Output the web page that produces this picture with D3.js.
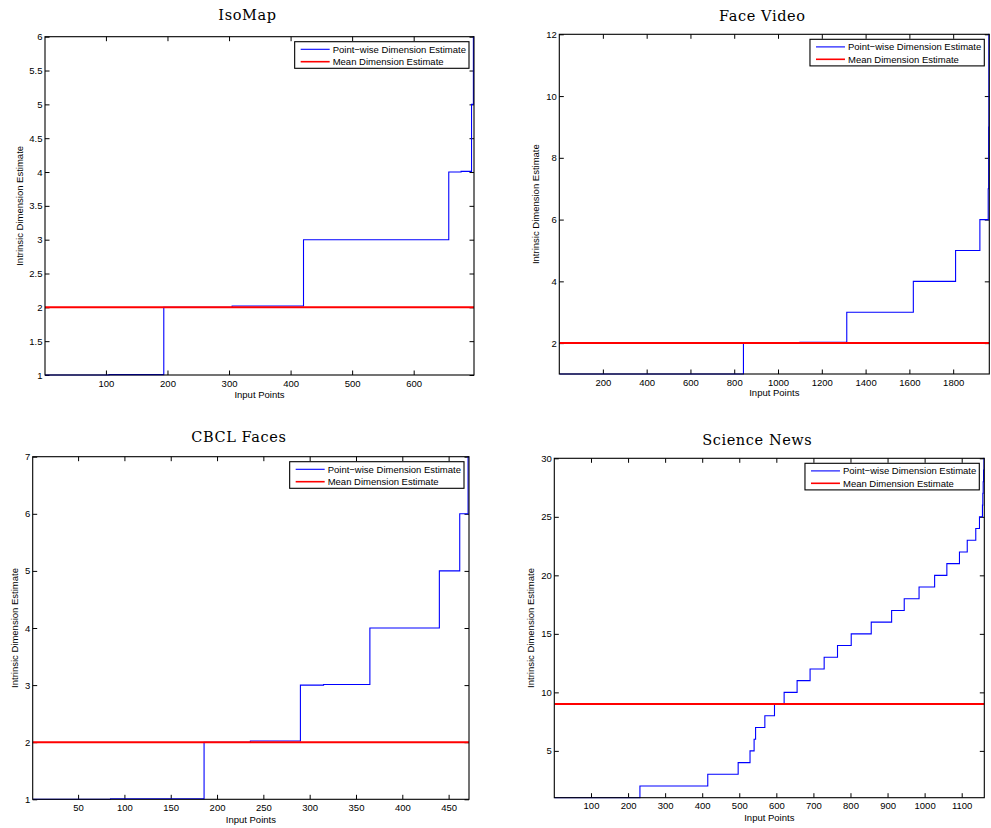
<!DOCTYPE html>
<html>
<head>
<meta charset="utf-8">
<script src="https://cdn.jsdelivr.net/npm/d3@7"></script>
<style>
  html, body { margin: 0; padding: 0; background: #fff; }
  svg { display: block; }
  .tick text { font-family: "Liberation Sans", Arial, sans-serif; font-size: 9.5px; fill: #000; }
  .tick line { stroke: #000; stroke-width: 1; }
</style>
</head>
<body>
<svg id="chart" width="991" height="828"></svg>
<script>
// ---------------- DATA ----------------
const titles = ["IsoMap", "Face Video", "CBCL Faces", "Science News"];
const legendLabels = ["Point\u2212wise Dimension Estimate", "Mean Dimension Estimate"];
const xLabel = "Input Points";
const yLabel = "Intrinsic Dimension Estimate";

// Point-wise estimates (sorted), given as step start positions and values
const isoX = [1, 105, 194, 305, 421, 657, 677, 694, 697, 698];
const isoY = [1, 1.005, 2, 2.02, 3, 4, 4.01, 5, 6, 6];
const isoMean = 2;
const isoDomainX = [1, 698];
const isoDomainY = [1, 6];
const isoXTicks = [100, 200, 300, 400, 500, 600];
const isoYTicks = [1, 1.5, 2, 2.5, 3, 3.5, 4, 4.5, 5, 5.5, 6];

const faceX = [1, 842, 1100, 1314, 1618, 1811, 1922, 1960, 1962, 1963, 1965];
const faceY = [1, 2, 2.03, 3, 4, 5, 6, 7, 9, 12, 12];
const faceMean = 2;
const faceDomainX = [1, 1965];
const faceDomainY = [1, 12];
const faceXTicks = [200, 400, 600, 800, 1000, 1200, 1400, 1600, 1800];
const faceYTicks = [2, 4, 6, 8, 10, 12];

const cbclX = [1, 85, 186, 236, 290, 315, 365, 440, 462, 471, 472];
const cbclY = [1, 1.01, 2, 2.02, 3, 3.01, 4, 5, 6, 7, 7];
const cbclMean = 2;
const cbclDomainX = [1, 472];
const cbclDomainY = [1, 7];
const cbclXTicks = [50, 100, 150, 200, 250, 300, 350, 400, 450];
const cbclYTicks = [1, 2, 3, 4, 5, 6, 7];

const sciX = [1, 232, 415, 497, 529, 540, 544, 569, 595, 621, 656, 691, 729, 765, 802, 856,
              911, 945, 985, 1027, 1060, 1094, 1115, 1138, 1148, 1156, 1157, 1158, 1159, 1160, 1161];
const sciY = [1, 2, 3, 4, 5, 6, 7, 8, 9, 10, 11, 12, 13, 14, 15, 16,
              17, 18, 19, 20, 21, 22, 23, 24, 25, 26, 27, 28, 29, 30, 30];
const sciMean = 9;
const sciDomainX = [1, 1161];
const sciDomainY = [1, 30];
const sciXTicks = [100, 200, 300, 400, 500, 600, 700, 800, 900, 1000, 1100];
const sciYTicks = [5, 10, 15, 20, 25, 30];

// ---------------- LAYOUT ----------------
const panels = [
  { xs: isoX, ys: isoY, mean: isoMean, dx: isoDomainX, dy: isoDomainY, xt: isoXTicks, yt: isoYTicks,
    box: { l: 45, r: 474, t: 36.7, b: 375 }, titleY: 20, ylabX: 20, xlabY: 395 },
  { xs: faceX, ys: faceY, mean: faceMean, dx: faceDomainX, dy: faceDomainY, xt: faceXTicks, yt: faceYTicks,
    box: { l: 559.3, r: 989.3, t: 34.3, b: 374 }, titleY: 20.7, ylabX: 535.7, xlabY: 393 },
  { xs: cbclX, ys: cbclY, mean: cbclMean, dx: cbclDomainX, dy: cbclDomainY, xt: cbclXTicks, yt: cbclYTicks,
    box: { l: 32.7, r: 469, t: 456.7, b: 799.3 }, titleY: 442.3, ylabX: 15, xlabY: 819.3 },
  { xs: sciX, ys: sciY, mean: sciMean, dx: sciDomainX, dy: sciDomainY, xt: sciXTicks, yt: sciYTicks,
    box: { l: 554.3, r: 984.3, t: 458.3, b: 797.7 }, titleY: 445, ylabX: 530.7, xlabY: 817.3 }
];

const svg = d3.select("#chart");
const sans = '"Liberation Sans", Arial, sans-serif';
const TICK = 4.5;

panels.forEach((p, i) => {
  const B = p.box;
  const x = d3.scaleLinear().domain(p.dx).range([B.l, B.r]);
  const y = d3.scaleLinear().domain(p.dy).range([B.b, B.t]);
  const g = svg.append("g");

  // clip
  const clipId = "clip" + i;
  svg.append("clipPath").attr("id", clipId).append("rect")
    .attr("x", B.l).attr("y", B.t - 1).attr("width", B.r - B.l).attr("height", B.b - B.t + 2);

  // axes (ticks inside, MATLAB box style)
  const fmt = d => String(d);
  g.append("g").attr("transform", `translate(0,${B.b})`)
    .call(d3.axisBottom(x).tickValues(p.xt).tickFormat(fmt).tickSize(-TICK).tickPadding(5))
    .call(a => a.select(".domain").remove());
  g.append("g").attr("transform", `translate(0,${B.t})`)
    .call(d3.axisTop(x).tickValues(p.xt).tickFormat("").tickSize(-TICK))
    .call(a => a.select(".domain").remove());
  g.append("g").attr("transform", `translate(${B.l},0)`)
    .call(d3.axisLeft(y).tickValues(p.yt).tickFormat(fmt).tickSize(-TICK).tickPadding(2.5))
    .call(a => a.select(".domain").remove());
  g.append("g").attr("transform", `translate(${B.r},0)`)
    .call(d3.axisRight(y).tickValues(p.yt).tickFormat("").tickSize(-TICK))
    .call(a => a.select(".domain").remove());

  // data lines
  const pts = p.xs.map((v, k) => [v, p.ys[k]]);
  const line = d3.line().x(d => x(d[0])).y(d => y(d[1])).curve(d3.curveStepAfter);
  const plot = g.append("g").attr("clip-path", `url(#${clipId})`);
  plot.append("path").datum(pts).attr("d", line)
    .attr("fill", "none").attr("stroke", "#0000ff").attr("stroke-width", 1.1);
  plot.append("line")
    .attr("x1", x(p.dx[0])).attr("x2", x(p.dx[1]))
    .attr("y1", y(p.mean)).attr("y2", y(p.mean))
    .attr("stroke", "#ff0000").attr("stroke-width", 2);

  // frame
  g.append("rect").attr("x", B.l).attr("y", B.t).attr("width", B.r - B.l).attr("height", B.b - B.t)
    .attr("fill", "none").attr("stroke", "#000").attr("stroke-width", 1.1);

  // legend
  const lg = g.append("g");
  const texts = [];
  legendLabels.forEach((t, k) => {
    texts.push(lg.append("text").attr("font-family", sans).attr("font-size", 9.5).attr("fill", "#000")
      .attr("dy", "0.35em").text(t));
  });
  const tw = d3.max(texts, t => t.node().getComputedTextLength());
  const lw = 38 + tw + 3, lh = 26.6;
  const lx = B.r - 5 - lw, ly = B.t + 5;
  lg.insert("rect", "text").attr("x", lx).attr("y", ly).attr("width", lw).attr("height", lh)
    .attr("fill", "#fff").attr("stroke", "#000").attr("stroke-width", 1.1);
  const rows = [ly + 7.6, ly + 20];
  const cols = ["#0000ff", "#ff0000"];
  texts.forEach((t, k) => t.attr("x", lx + 38).attr("y", rows[k]));
  rows.forEach((ry, k) => {
    lg.append("line").attr("x1", lx + 6).attr("x2", lx + 35).attr("y1", ry).attr("y2", ry)
      .attr("stroke", cols[k]).attr("stroke-width", k === 0 ? 1.1 : 1.6);
  });

  // labels
  g.append("text").attr("x", (B.l + B.r) / 2).attr("y", p.xlabY).attr("dy", "0.35em")
    .attr("text-anchor", "middle").attr("font-family", sans).attr("font-size", 9.5).text(xLabel);
  g.append("text").attr("transform", `translate(${p.ylabX},${(B.t + B.b) / 2}) rotate(-90)`)
    .attr("dy", "0.35em").attr("text-anchor", "middle").attr("font-family", sans).attr("font-size", 9.5)
    .text(yLabel);
  g.append("text").attr("x", (B.l + B.r) / 2 - 12).attr("y", p.titleY)
    .attr("text-anchor", "middle").attr("font-family", '"DejaVu Serif", serif').attr("font-size", 14.5)
    .attr("letter-spacing", 0.6).text(titles[i]);
});
</script>
</body>
</html>
